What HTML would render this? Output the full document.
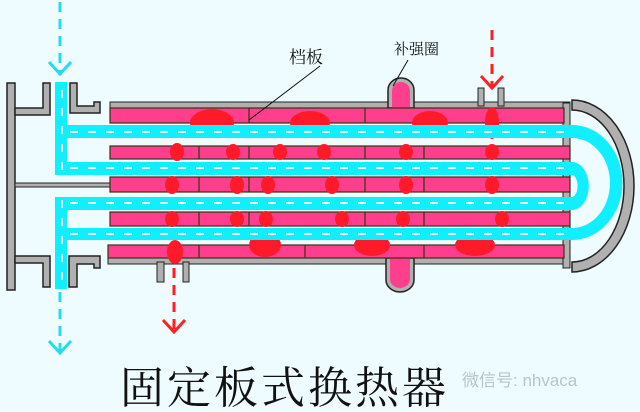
<!DOCTYPE html>
<html><head><meta charset="utf-8"><style>
html,body{margin:0;padding:0;background:#eefcff;}
svg{display:block}
</style></head><body>
<svg width="640" height="412" viewBox="0 0 640 412" xmlns="http://www.w3.org/2000/svg">
<rect width="640" height="412" fill="#eefcff"/>
<rect x="7" y="83" width="8" height="207" fill="#b0b0b0" stroke="#222" stroke-width="1.5"/>
<rect x="15" y="183" width="95" height="4" fill="#b0b0b0" stroke="#222" stroke-width="1"/>
<path d="M15 108 L43 108 L43 83 L50 83 L50 115 L15 115 Z" fill="#b0b0b0" stroke="#222" stroke-width="1.5"/>
<path d="M70 83 L77 83 L77 106 L94 106 L94 102 L100 102 L100 113 L70 113 Z" fill="#b0b0b0" stroke="#222" stroke-width="1.5"/>
<path d="M15 256 L50 256 L50 287 L43 287 L43 263 L15 263 Z" fill="#b0b0b0" stroke="#222" stroke-width="1.5"/>
<path d="M69 256 L100 256 L100 268 L94 268 L94 264 L77 264 L77 287 L69 287 Z" fill="#b0b0b0" stroke="#222" stroke-width="1.5"/>
<rect x="110" y="102" width="460" height="6" fill="#b0b0b0" stroke="#222" stroke-width="1"/>
<rect x="108" y="258" width="462" height="6" fill="#b0b0b0" stroke="#222" stroke-width="1"/>
<rect x="478" y="88" width="6" height="18" fill="#b0b0b0" stroke="#222" stroke-width="1"/>
<rect x="498" y="88" width="6" height="18" fill="#b0b0b0" stroke="#222" stroke-width="1"/>
<rect x="157" y="262" width="7" height="20" fill="#b0b0b0" stroke="#222" stroke-width="1"/>
<rect x="183" y="262" width="6" height="20" fill="#b0b0b0" stroke="#222" stroke-width="1"/>
<path d="M388 108 L388 90 A13 12 0 0 1 414 90 L414 108 Z" fill="#b0b0b0" stroke="#222" stroke-width="1.5"/>
<path d="M392 108 L392 91 A9 9 0 0 1 410 91 L410 108 Z" fill="#ff3f8e"/>
<path d="M386 258 L386 280 A14 12 0 0 0 414 280 L414 258 Z" fill="#b0b0b0" stroke="#222" stroke-width="1.5"/>
<path d="M390 258 L390 279 A10 9 0 0 0 410 279 L410 258 Z" fill="#ff3f8e"/>
<rect x="563" y="103" width="7" height="165" fill="#b0b0b0" stroke="#222" stroke-width="1"/>
<path d="M572 100 L572 110 A52 76 0 0 1 572 262 L572 272 A62 86 0 0 0 572 100 Z" fill="#b0b0b0" stroke="#222" stroke-width="1.5"/>
<g fill="#ff3f8e" stroke="#331" stroke-width="1.2">
<rect x="110" y="108" width="454" height="15"/>
<rect x="110" y="146" width="460" height="13"/>
<rect x="110" y="177" width="460" height="15"/>
<rect x="110" y="212" width="460" height="14"/>
<rect x="108" y="245" width="456" height="13"/>
</g>
<g stroke="#331" stroke-width="1.2">
<line x1="249" y1="108" x2="249" y2="123"/><line x1="365" y1="108" x2="365" y2="123"/>
<line x1="199" y1="146" x2="199" y2="159"/><line x1="249" y1="146" x2="249" y2="159"/><line x1="365" y1="146" x2="365" y2="159"/><line x1="424" y1="146" x2="424" y2="159"/>
<line x1="199" y1="177" x2="199" y2="192"/><line x1="249" y1="177" x2="249" y2="192"/><line x1="365" y1="177" x2="365" y2="192"/><line x1="424" y1="177" x2="424" y2="192"/>
<line x1="199" y1="212" x2="199" y2="226"/><line x1="249" y1="212" x2="249" y2="226"/><line x1="365" y1="212" x2="365" y2="226"/><line x1="424" y1="212" x2="424" y2="226"/>
<line x1="199" y1="245" x2="199" y2="258"/><line x1="305" y1="245" x2="305" y2="258"/><line x1="424" y1="245" x2="424" y2="258"/>
</g>
<g fill="#ff1a2a">
<ellipse cx="212" cy="123" rx="22" ry="14"/><ellipse cx="310" cy="123" rx="20" ry="12"/><ellipse cx="430" cy="123" rx="18" ry="12"/><ellipse cx="492" cy="123" rx="7" ry="16"/>
<ellipse cx="177" cy="152" rx="7" ry="9"/><ellipse cx="233" cy="152" rx="7" ry="8"/><ellipse cx="280" cy="152" rx="7" ry="8"/><ellipse cx="324" cy="152" rx="7" ry="8"/><ellipse cx="406" cy="152" rx="7" ry="8"/><ellipse cx="492" cy="152" rx="7" ry="8"/>
<ellipse cx="172" cy="185" rx="7" ry="9"/><ellipse cx="237" cy="185" rx="7" ry="9"/><ellipse cx="268" cy="185" rx="7" ry="9"/><ellipse cx="332" cy="185" rx="7" ry="9"/><ellipse cx="406" cy="185" rx="7" ry="9"/><ellipse cx="492" cy="185" rx="7" ry="9"/>
<ellipse cx="172" cy="219" rx="7" ry="8"/><ellipse cx="237" cy="219" rx="7" ry="8"/><ellipse cx="266" cy="219" rx="7" ry="8"/><ellipse cx="342" cy="219" rx="7" ry="8"/><ellipse cx="403" cy="219" rx="7" ry="8"/><ellipse cx="502" cy="219" rx="7" ry="8"/>
<ellipse cx="175" cy="252" rx="8" ry="12"/><ellipse cx="265" cy="245" rx="16" ry="12"/><ellipse cx="372" cy="245" rx="18" ry="11"/><ellipse cx="475" cy="245" rx="20" ry="11"/>
</g>
<g fill="#11eeff">
<rect x="55" y="82" width="12" height="92"/>
<rect x="55" y="197" width="12" height="92"/>
<path d="M55 125 L572 125 A50 57 0 0 1 572 240 L55 240 L55 228 L572 228 A38 45 0 0 0 572 138 L55 138 Z"/>
<path d="M55 162 L572 162 A14 20 0 0 1 572 210 L55 210 L55 197 L572 197 A4 8 0 0 0 572 175 L55 175 Z"/>
</g>
<g stroke="#ffffff" stroke-width="2" stroke-dasharray="8 10" fill="none" opacity="0.9">
<line x1="62" y1="90" x2="62" y2="170"/><line x1="62" y1="200" x2="62" y2="285"/>
<line x1="70" y1="132" x2="570" y2="132"/><line x1="70" y1="168" x2="570" y2="168"/>
<line x1="70" y1="203" x2="570" y2="203"/><line x1="70" y1="234" x2="570" y2="234"/>
</g>
<g fill="none" stroke-width="3">
<line x1="60" y1="2" x2="60" y2="75" stroke="#22ddee" stroke-dasharray="10 7"/>
<path d="M49 62 L60 74 L71 62" stroke="#22ddee"/>
<line x1="60" y1="292" x2="60" y2="352" stroke="#22ddee" stroke-dasharray="10 7"/>
<path d="M49 341 L60 353 L71 341" stroke="#22ddee"/>
<line x1="492" y1="30" x2="492" y2="88" stroke="#ff2020" stroke-dasharray="10 7"/>
<path d="M481 76 L492 88 L503 76" stroke="#ff2020"/>
<line x1="174" y1="268" x2="174" y2="330" stroke="#ff2020" stroke-dasharray="10 7"/>
<path d="M163 320 L174 332 L185 320" stroke="#ff2020"/>
</g>
<line x1="320" y1="66" x2="249" y2="120" stroke="#111" stroke-width="1"/>
<line x1="408" y1="60" x2="393" y2="86" stroke="#111" stroke-width="1"/>
<text x="289" y="63" font-family="'Noto Serif CJK SC',serif" font-size="17" fill="#111">档板</text>
<text x="394" y="54" font-family="'Noto Serif CJK SC',serif" font-size="15" fill="#111">补强圈</text>
<text x="120" y="403" font-family="'Noto Serif CJK SC',serif" font-size="44" letter-spacing="3" fill="#111">固定板式换热器</text>
<text x="462" y="386" font-family="'Liberation Sans','Noto Sans CJK SC',sans-serif" font-size="17" fill="#b8c4c8">微信号: nhvaca</text>
</svg>
</body></html>
